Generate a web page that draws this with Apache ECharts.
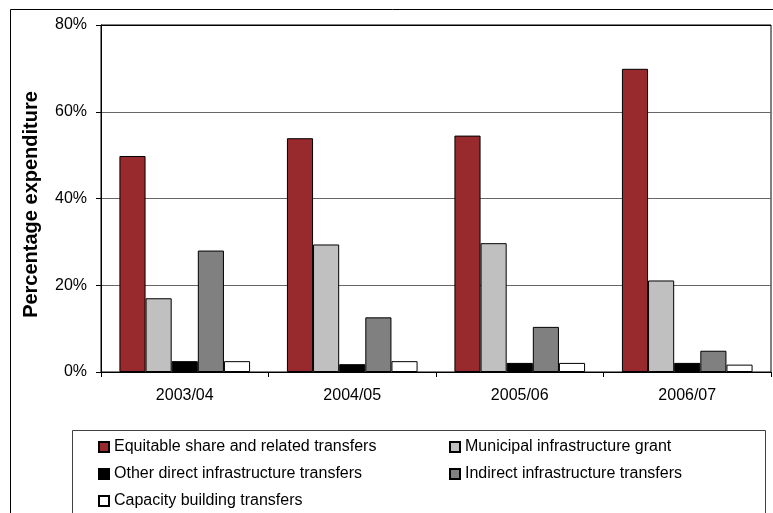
<!DOCTYPE html>
<html>
<head>
<meta charset="utf-8">
<script src="https://cdn.jsdelivr.net/npm/echarts@6/dist/echarts.min.js"></script>
<style>
  html, body { margin: 0; padding: 0; background: #fff; }
  #chart { width: 773px; height: 513px; }
</style>
</head>
<body>
<div id="chart"></div>
<script>
// Financial years on the category axis
const years = ['2003/04', '2004/05', '2005/06', '2006/07'];

// Share of expenditure per transfer type (percent)
const equitableShare = [49.8, 53.9, 54.5, 69.9];
const municipalInfrastructure = [17.0, 29.4, 29.7, 21.1];
const otherDirectInfrastructure = [2.5, 1.8, 2.1, 2.1];
const indirectInfrastructure = [28.0, 12.6, 10.4, 4.9];
const capacityBuilding = [2.5, 2.5, 2.1, 1.7];

// Value axis ticks
const yMin = 0, yMax = 80, yStep = 20;

const seriesDefs = [
  { name: 'Equitable share and related transfers', data: equitableShare, color: '#982a2e' },
  { name: 'Municipal infrastructure grant', data: municipalInfrastructure, color: '#c0c0c0' },
  { name: 'Other direct infrastructure transfers', data: otherDirectInfrastructure, color: '#000000' },
  { name: 'Indirect infrastructure transfers', data: indirectInfrastructure, color: '#808080' },
  { name: 'Capacity building transfers', data: capacityBuilding, color: '#ffffff' }
];

const FONT = "'Liberation Sans', Arial, sans-serif";

const chart = echarts.init(document.getElementById('chart'), null, { renderer: 'canvas' });

const legendCommon = {
  orient: 'vertical',
  icon: 'rect',
  itemWidth: 10,
  itemHeight: 10,
  itemGap: 11,
  padding: 0,
  height: 200,
  selectedMode: false,
  textStyle: { fontFamily: FONT, fontSize: 16, color: '#000' }
};

chart.setOption({
  animation: false,
  backgroundColor: '#fff',
  grid: {
    left: 101, top: 25, right: 2, bottom: 141,
    show: true, borderColor: '#000', borderWidth: 1,
    containLabel: false
  },
  legend: [
    Object.assign({ left: 98, top: 439, data: [seriesDefs[0].name, seriesDefs[2].name, seriesDefs[4].name] }, legendCommon),
    Object.assign({ left: 449, top: 439, data: [seriesDefs[1].name, seriesDefs[3].name] }, legendCommon)
  ],
  xAxis: {
    type: 'category',
    data: years,
    axisLine: { lineStyle: { color: '#000', width: 1 } },
    axisTick: { show: true, interval: 0, length: 5, lineStyle: { color: '#000' } },
    axisLabel: { fontFamily: FONT, fontSize: 16, color: '#000', margin: 16 },
    splitLine: { show: false }
  },
  yAxis: {
    type: 'value',
    min: yMin, max: yMax, interval: yStep,
    name: 'Percentage expenditure',
    nameLocation: 'middle',
    nameGap: 60,
    nameTextStyle: { fontFamily: FONT, fontSize: 20, fontWeight: 'bold', color: '#000', padding: [0, 12, 0, 0] },
    axisLine: { show: true, lineStyle: { color: '#000', width: 1 } },
    axisTick: { show: true, length: 5, lineStyle: { color: '#000' } },
    axisLabel: { fontFamily: FONT, fontSize: 16, color: '#000', margin: 14, formatter: '{value}%' },
    splitLine: { show: true, lineStyle: { color: ['#000', '#666', '#666', '#666', '#000'], width: 1 } }
  },
  graphic: [
    // outer chart frame (top and left edges)
    { type: 'polyline', silent: true, z: 0,
      shape: { points: [[10.5, 600], [10.5, 9.5], [800, 9.5]] },
      style: { stroke: '#000', lineWidth: 1, fill: null } },
    // legend frame
    { type: 'rect', silent: true, z: 0,
      shape: { x: 72.5, y: 430.5, width: 693, height: 120 },
      style: { stroke: '#404040', lineWidth: 1, fill: null } }
  ],
  series: seriesDefs.map(s => ({
    type: 'bar',
    name: s.name,
    data: s.data,
    barGap: '0%',
    barCategoryGap: '22%',
    itemStyle: { color: s.color, borderColor: '#000', borderWidth: 1 },
    emphasis: { disabled: true }
  }))
});
</script>
</body>
</html>
